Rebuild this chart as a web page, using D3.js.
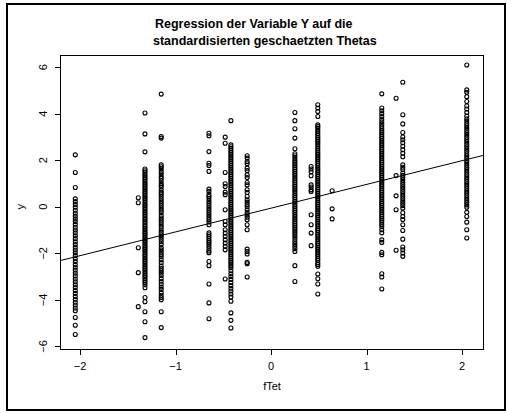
<!DOCTYPE html>
<html>
<head>
<meta charset="utf-8">
<script src="https://cdn.jsdelivr.net/npm/d3@7"></script>
<style>
  body { margin: 0; background: #fff; }
  svg { display: block; font-family: "Liberation Sans", Arial, Helvetica, sans-serif; }
</style>
</head>
<body>
<div id="chart"></div>
<script>
// x positions of the discrete fTet values (one column of points each)
const colX = [-2.05, -1.39, -1.32, -1.15, -0.65, -0.48, -0.42, -0.25,
              0.25, 0.42, 0.49, 0.64, 1.16, 1.31, 1.38, 2.05];

// y values read column by column
const yA = [2.23, 1.47, 0.83, 0.34, 0.22, 0.1, -0.02, -0.15, -0.28, -0.4, -0.52, -0.63, -0.75, -0.88, -1.0,
  -1.12, -1.25, -1.37, -1.5, -1.62, -1.74, -1.86, -1.98, -2.1, -2.23, -2.35, -2.48, -2.6, -2.72, -2.85,
  -2.97, -3.1, -3.22, -3.35, -3.47, -3.6, -3.72, -3.85, -3.97, -4.1, -4.22, -4.35, -4.47, -4.76, -5.09, -5.49];
const yB = [0.39, 0.17, -1.76, -2.83, -4.29];
const yC = [4.03, 3.13, 2.36, 1.62, 1.55, 1.48, 1.4, 1.33, 1.25, 1.18, 1.1, 1.02, 0.95, 0.88, 0.8, 0.72, 0.65,
  0.58, 0.5, 0.42, 0.35, 0.28, 0.2, 0.12, 0.05, -0.02, -0.1, -0.18, -0.25, -0.32, -0.4, -0.48, -0.55, -0.62,
  -0.7, -0.78, -0.85, -0.92, -1.0, -1.08, -1.15, -1.22, -1.3, -1.38, -1.45, -1.52, -1.6, -1.68, -1.75, -1.82,
  -1.9, -1.98, -2.05, -2.12, -2.2, -2.28, -2.35, -2.42, -2.5, -2.58, -2.65, -2.72, -2.8, -2.88, -2.95, -3.02,
  -3.1, -3.18, -3.25, -3.35, -3.48, -3.9, -4.08, -4.51, -4.94, -5.62];
const yD = [4.84, 3.02, 2.95, 1.80, 1.72, 1.63, 1.52, 1.42, 1.3, 1.22, 1.12, 1.0, 0.92, 0.85, 0.72, 0.62, 0.55,
  0.45, 0.35, 0.25, 0.15, 0.05, -0.05, -0.15, -0.25, -0.38, -0.48, -0.58, -0.68, -0.78, -0.88, -1.0, -1.1,
  -1.2, -1.3, -1.4, -1.5, -1.62, -1.75, -1.85, -1.95, -2.05, -2.15, -2.28, -2.4, -2.55, -2.65, -2.75, -2.85,
  -2.95, -3.08, -3.2, -3.32, -3.45, -3.55, -3.68, -3.8, -3.9, -3.99, -4.51, -5.19];
const yE = [3.16, 3.05, 2.37, 1.87, 1.77, 1.52, 0.76, 0.66, 0.52, 0.44, 0.35, 0.25, 0.15, 0.05, -0.05, -0.15,
  -0.25, -0.35, -0.45, -0.55, -0.65, -0.77, -1.12, -1.2, -1.28, -1.36, -1.45, -1.52, -1.6, -1.7, -1.8, -1.9,
  -1.97, -2.35, -2.53, -3.32, -4.13, -4.81];
const yF = [2.99, 2.73, 1.47, 0.99, 0.87, 0.63, 0.52, -0.13, -0.63, -0.77, -0.99, -1.13, -1.27, -1.42, -1.56,
  -1.7, -1.85, -3.1];
const yG = [3.70, 2.66, 2.58, 2.5, 2.42, 2.34, 2.26, 2.18, 2.1, 2.02, 1.94, 1.86, 1.78, 1.7, 1.62, 1.54, 1.46,
  1.38, 1.3, 1.22, 1.14, 1.06, 0.98, 0.9, 0.82, 0.74, 0.66, 0.58, 0.5, 0.42, 0.34, 0.26, 0.18, 0.1, 0.02,
  -0.06, -0.14, -0.22, -0.3, -0.38, -0.46, -0.54, -0.62, -0.7, -0.78, -0.86, -0.94, -1.02, -1.1, -1.18, -1.26,
  -1.34, -1.42, -1.5, -1.58, -1.66, -1.74, -1.82, -1.9, -1.98, -2.06, -2.14, -2.22, -2.3, -2.38, -2.46, -2.54,
  -2.62, -2.75, -2.88, -3.0, -3.12, -3.25, -3.38, -3.5, -3.62, -3.75, -3.88, -4.06, -4.56, -4.88, -5.21];
const yH = [2.19, 2.09, 1.94, 1.85, 1.66, 1.56, 1.37, 1.26, 1.04, 0.94, 0.73, 0.61, 0.44, 0.3, 0.2, 0.1, 0.0,
  -0.13, -0.25, -0.35, -0.45, -0.56, -0.77, -0.99, -1.82, -1.92, -2.03, -2.39, -2.45, -3.02];
const yI = [4.05, 3.70, 3.35, 2.95, 2.49, 2.28, 2.19, 2.09, 2.0, 1.92, 1.84, 1.76, 1.68, 1.6, 1.52, 1.44, 1.36,
  1.28, 1.2, 1.12, 1.04, 0.96, 0.88, 0.8, 0.72, 0.64, 0.56, 0.48, 0.4, 0.32, 0.24, 0.16, 0.08, 0.0, -0.08,
  -0.16, -0.24, -0.32, -0.4, -0.48, -0.56, -0.64, -0.72, -0.8, -0.88, -0.96, -1.04, -1.12, -1.2, -1.3, -1.4,
  -1.5, -1.6, -1.7, -1.8, -1.92, -2.53, -3.21];
const yJ = [1.73, 1.62, 1.50, 1.33, 0.94, 0.85, 0.73, 0.66, -0.34, -0.77, -1.13, -1.67];
const yK = [4.38, 4.24, 4.09, 3.88, 3.52, 3.45, 3.38, 3.3, 3.22, 3.14, 3.06, 2.98, 2.9, 2.82, 2.74, 2.66, 2.58,
  2.5, 2.42, 2.34, 2.26, 2.18, 2.1, 2.02, 1.94, 1.86, 1.78, 1.7, 1.62, 1.54, 1.46, 1.38, 1.3, 1.22, 1.14, 1.06,
  0.98, 0.9, 0.82, 0.74, 0.66, 0.58, 0.5, 0.42, 0.34, 0.26, 0.18, 0.1, 0.02, -0.06, -0.14, -0.22, -0.3, -0.38,
  -0.46, -0.54, -0.62, -0.7, -0.78, -0.86, -0.94, -1.02, -1.1, -1.18, -1.26, -1.34, -1.42, -1.5, -1.58, -1.66,
  -1.74, -1.82, -1.9, -1.98, -2.06, -2.14, -2.22, -2.3, -2.4, -2.48, -2.56, -2.89, -3.09, -3.32, -3.75];
const yL = [0.69, -0.09, -0.52];
const yM = [4.85, 4.24, 4.12, 4.0, 3.88, 3.76, 3.65, 3.55, 3.45, 3.35, 3.26, 3.18, 3.1, 3.02, 2.94, 2.86, 2.78,
  2.7, 2.62, 2.54, 2.46, 2.38, 2.3, 2.22, 2.14, 2.06, 1.98, 1.9, 1.82, 1.74, 1.66, 1.58, 1.5, 1.42, 1.34, 1.26,
  1.18, 1.1, 1.02, 0.94, 0.86, 0.78, 0.7, 0.62, 0.54, 0.46, 0.38, 0.3, 0.22, 0.14, 0.06, -0.02, -0.1, -0.18,
  -0.26, -0.34, -0.42, -0.5, -0.58, -0.66, -0.76, -0.86, -0.99, -1.12, -1.42, -1.53, -1.96, -2.06, -2.88,
  -3.02, -3.53];
const yN = [4.66, 1.34, 0.47, -0.13, -1.87];
const yO = [5.35, 3.95, 3.56, 3.19, 3.0, 2.88, 2.75, 2.6, 2.45, 2.3, 2.15, 1.8, 1.7, 1.6, 1.45, 1.35, 1.25, 1.15,
  1.05, 0.95, 0.85, 0.75, 0.65, 0.55, 0.45, 0.35, 0.25, 0.15, 0.05, -0.06, -0.26, -0.42, -0.55, -0.77, -1.02,
  -1.39, -1.73, -1.85, -1.99, -2.13];
const yP = [6.09, 5.02, 4.92, 4.73, 4.52, 4.33, 4.2, 4.05, 3.9, 3.78, 3.68, 3.58, 3.48, 3.38, 3.28, 3.18, 3.08,
  2.98, 2.88, 2.78, 2.68, 2.58, 2.48, 2.38, 2.28, 2.18, 2.08, 1.98, 1.88, 1.78, 1.68, 1.58, 1.48, 1.38, 1.28,
  1.18, 1.08, 0.98, 0.88, 0.78, 0.68, 0.58, 0.48, 0.38, 0.28, 0.18, 0.08, -0.02, -0.24, -0.42, -0.66, -0.99, -1.34];

const colY = [yA, yB, yC, yD, yE, yF, yG, yH, yI, yJ, yK, yL, yM, yN, yO, yP];

const xTicks = [-2, -1, 0, 1, 2];
const yTicks = [-6, -4, -2, 0, 2, 4, 6];

// fitted line y = a + b * fTet
const fitA = -0.06;
const fitB = 1.02;

const titleLines = ["Regression der Variable Y auf die", "standardisierten geschaetzten Thetas"];

const width = 507, height = 413;
const box = {left: 60, right: 483, top: 55, bottom: 349};

const svg = d3.select("#chart")
  .append("svg")
  .attr("width", width)
  .attr("height", height);

// outer frame
svg.append("rect")
  .attr("x", 7).attr("y", 4)
  .attr("width", 498).attr("height", 406)
  .attr("fill", "none")
  .attr("stroke", "#000")
  .attr("stroke-width", 2);

const x = d3.scaleLinear().domain([-2.21, 2.22]).range([box.left, box.right]);
const y = d3.scaleLinear().domain([-6.11, 6.52]).range([box.bottom, box.top]);

const fmt = d3.format("d");

// points
const points = [];
colY.forEach((ys, i) => ys.forEach(v => points.push({x: colX[i], y: v})));

svg.append("g")
  .selectAll("circle")
  .data(points)
  .enter()
  .append("circle")
  .attr("cx", d => x(d.x))
  .attr("cy", d => y(d.y))
  .attr("r", 2)
  .attr("fill", "none")
  .attr("stroke", "#000")
  .attr("stroke-width", 1.1);

// regression line across the plot region
const [x0, x1] = x.domain();
svg.append("line")
  .attr("x1", x(x0)).attr("y1", y(fitA + fitB * x0))
  .attr("x2", x(x1)).attr("y2", y(fitA + fitB * x1))
  .attr("stroke", "#000")
  .attr("stroke-width", 1);

// plot box
svg.append("rect")
  .attr("x", box.left + 0.5).attr("y", box.top + 0.5)
  .attr("width", box.right - box.left).attr("height", box.bottom - box.top)
  .attr("fill", "none")
  .attr("stroke", "#000")
  .attr("stroke-width", 1);

// x axis
const xAxis = svg.append("g");
xAxis.selectAll("line")
  .data(xTicks)
  .enter()
  .append("line")
  .attr("x1", d => Math.round(x(d)) + 0.5).attr("x2", d => Math.round(x(d)) + 0.5)
  .attr("y1", box.bottom).attr("y2", box.bottom + 6)
  .attr("stroke", "#000");
xAxis.selectAll("text")
  .data(xTicks)
  .enter()
  .append("text")
  .attr("x", d => x(d))
  .attr("y", 370)
  .attr("text-anchor", "middle")
  .attr("font-size", 11)
  .text(d => fmt(d));

// y axis
const yAxis = svg.append("g");
yAxis.selectAll("line")
  .data(yTicks)
  .enter()
  .append("line")
  .attr("x1", box.left - 5).attr("x2", box.left)
  .attr("y1", d => Math.round(y(d)) + 0.5).attr("y2", d => Math.round(y(d)) + 0.5)
  .attr("stroke", "#000");
yAxis.selectAll("text")
  .data(yTicks)
  .enter()
  .append("text")
  .attr("transform", d => "translate(47," + y(d) + ") rotate(-90)")
  .attr("text-anchor", "middle")
  .attr("font-size", 11)
  .text(d => fmt(d));

// axis titles
svg.append("text")
  .attr("x", 272).attr("y", 390)
  .attr("text-anchor", "middle")
  .attr("font-size", 11)
  .text("fTet");

svg.append("text")
  .attr("transform", "translate(24," + y(0) + ") rotate(-90)")
  .attr("text-anchor", "middle")
  .attr("font-size", 11)
  .text("y");

// title
svg.append("text")
  .attr("x", 155).attr("y", 27.5)
  .attr("font-size", 12.5)
  .attr("font-weight", "bold")
  .text(titleLines[0]);
svg.append("text")
  .attr("x", 153).attr("y", 45)
  .attr("font-size", 12.5)
  .attr("font-weight", "bold")
  .text(titleLines[1]);
</script>
</body>
</html>
